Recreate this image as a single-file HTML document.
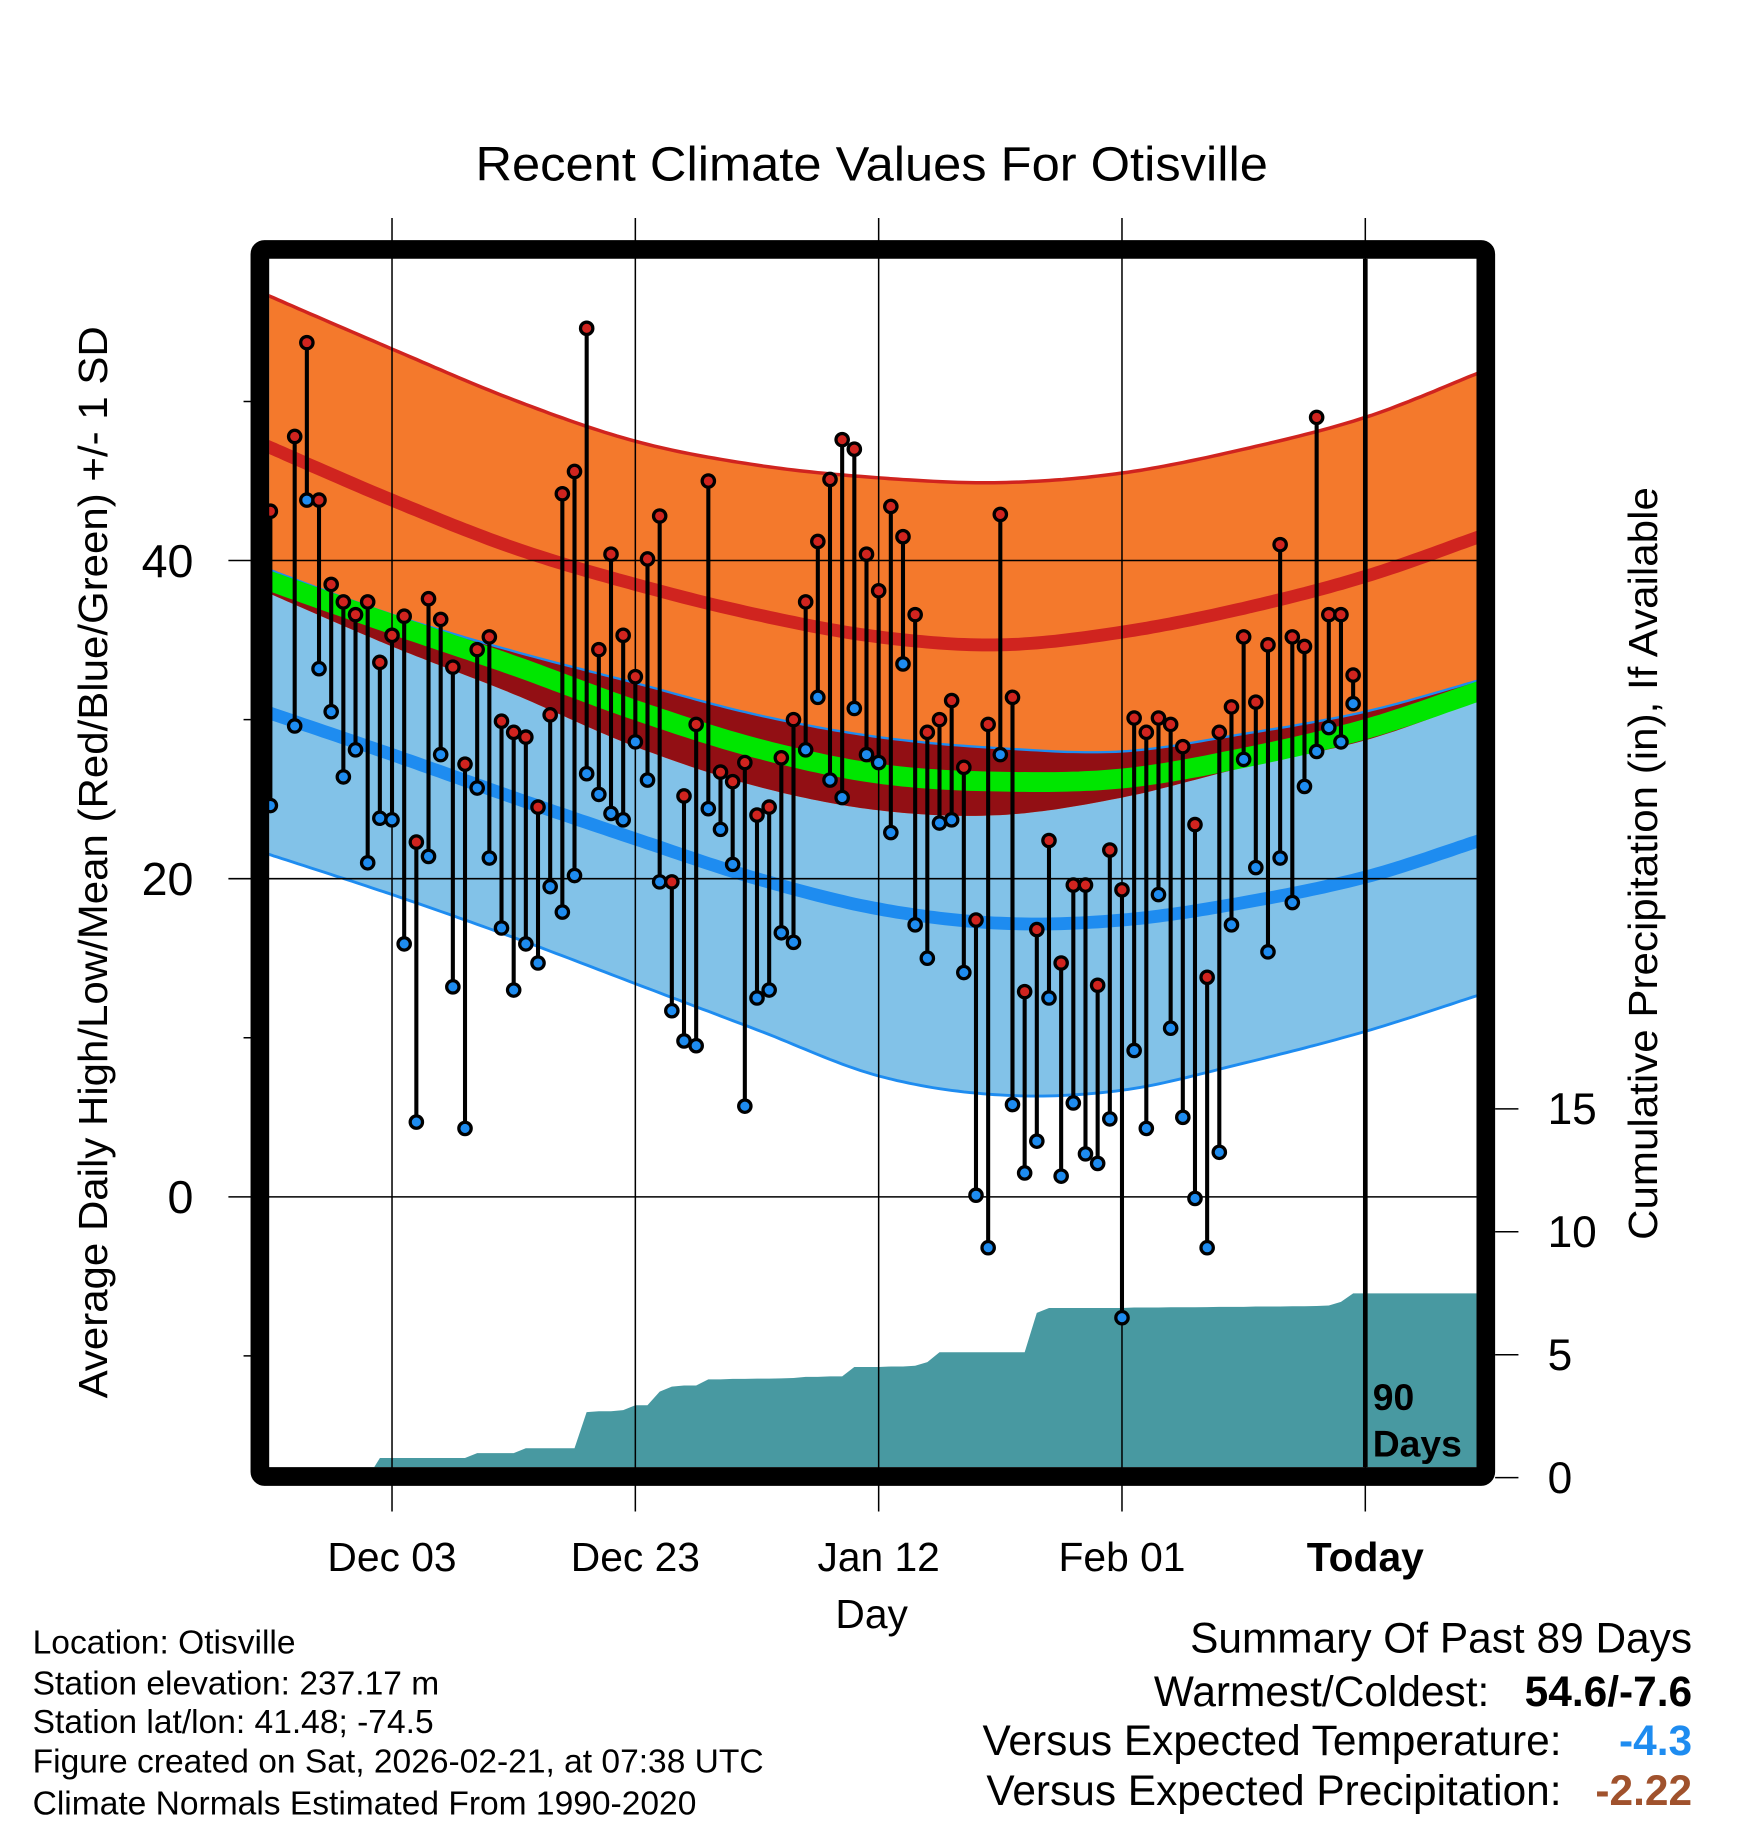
<!DOCTYPE html>
<html><head><meta charset="utf-8">
<style>
html,body{margin:0;padding:0;background:#fff;}
svg{display:block;}
text{font-family:"Liberation Sans",Arial,sans-serif;}
</style></head>
<body>
<svg id="chart" width="1748" height="1828" viewBox="0 0 1500 1568.6" xmlns="http://www.w3.org/2000/svg">
<text x="748" y="155" font-size="41" text-anchor="middle" textLength="680" lengthAdjust="spacingAndGlyphs">Recent Climate Values For Otisville</text>
<g id="plot"></g>
<text transform="translate(92,740) rotate(-90)" font-size="35" text-anchor="middle" textLength="920" lengthAdjust="spacingAndGlyphs">Average Daily High/Low/Mean (Red/Blue/Green) +/- 1 SD</text>
<text transform="translate(1422,741) rotate(-90)" font-size="35" text-anchor="middle" textLength="646" lengthAdjust="spacingAndGlyphs">Cumulative Precipitation (in), If Available</text>
<text x="748" y="1397" font-size="35" text-anchor="middle">Day</text>
<g font-size="28.8">
<text x="28" y="1419">Location: Otisville</text>
<text x="28" y="1454">Station elevation: 237.17 m</text>
<text x="28" y="1487">Station lat/lon: 41.48; -74.5</text>
<text x="28" y="1521">Figure created on Sat, 2026-02-21, at 07:38 UTC</text>
<text x="28" y="1557">Climate Normals Estimated From 1990-2020</text>
</g>
<g font-size="36.4">
<text x="1452" y="1418" text-anchor="end">Summary Of Past 89 Days</text>
<text x="1278" y="1464" text-anchor="end">Warmest/Coldest:</text>
<text x="1452" y="1464" text-anchor="end" font-weight="bold">54.6/-7.6</text>
<text x="1340" y="1506" text-anchor="end">Versus Expected Temperature:</text>
<text x="1452" y="1506" text-anchor="end" font-weight="bold" fill="#1e8cf0">-4.3</text>
<text x="1340" y="1549" text-anchor="end">Versus Expected Precipitation:</text>
<text x="1452" y="1549" text-anchor="end" font-weight="bold" fill="#a0522d">-2.22</text>
</g>
</svg>
<script>
// ---- data ----
const highs = [43.1,null,47.8,53.7,43.8,38.5,37.4,36.6,37.4,33.6,35.3,36.5,22.3,37.6,36.3,33.3,27.2,34.4,35.2,29.9,29.2,28.9,24.5,30.3,44.2,45.6,54.6,34.4,40.4,35.3,32.7,40.1,42.8,19.8,25.2,29.7,45.0,26.7,26.1,27.3,24.0,24.5,27.6,30.0,37.4,41.2,45.1,47.6,47.0,40.4,38.1,43.4,41.5,36.6,29.2,30.0,31.2,27.0,17.4,29.7,42.9,31.4,12.9,16.8,22.4,14.7,19.6,19.6,13.3,21.8,19.3,30.1,29.2,30.1,29.7,28.3,23.4,13.8,29.2,30.8,35.2,31.1,34.7,41.0,35.2,34.6,49.0,36.6,36.6,32.8];
const lows = [24.6,null,29.6,43.8,33.2,30.5,26.4,28.1,21.0,23.8,23.7,15.9,4.7,21.4,27.8,13.2,4.3,25.7,21.3,16.9,13.0,15.9,14.7,19.5,17.9,20.2,26.6,25.3,24.1,23.7,28.6,26.2,19.8,11.7,9.8,9.5,24.4,23.1,20.9,5.7,12.5,13.0,16.6,16.0,28.1,31.4,26.2,25.1,30.7,27.8,27.3,22.9,33.5,17.1,15.0,23.5,23.7,14.1,0.1,-3.2,27.8,5.8,1.5,3.5,12.5,1.3,5.9,2.7,2.1,4.9,-7.6,9.2,4.3,19.0,10.6,5.0,-0.1,-3.2,2.8,17.1,27.5,20.7,15.4,21.3,18.5,25.8,28.0,29.5,28.6,31.0];
const precip = [0,0,0,0,0,0,0,0,0,0.8,0.8,0.8,0.8,0.8,0.8,0.8,0.8,1.0,1.0,1.0,1.0,1.2,1.2,1.2,1.2,1.2,2.67,2.7,2.7,2.75,2.95,2.95,3.5,3.7,3.75,3.75,4.0,4.0,4.02,4.02,4.03,4.03,4.04,4.05,4.1,4.1,4.12,4.12,4.5,4.5,4.5,4.52,4.52,4.55,4.7,5.1,5.1,5.1,5.1,5.1,5.1,5.1,5.1,6.7,6.9,6.9,6.9,6.9,6.9,6.9,6.9,6.92,6.92,6.92,6.93,6.93,6.93,6.94,6.95,6.95,6.95,6.96,6.96,6.96,6.97,6.97,6.98,7.0,7.15,7.5];
const normDays = [0,10,20,30,40,50,60,70,80,90,99];
const highPlusSD = [56.6,53.3,50.1,47.5,46.0,45.2,44.9,45.5,47.0,49.0,51.7];
const normHigh   = [47.1,43.8,40.8,38.5,36.6,35.2,34.7,35.5,37.0,39.0,41.4];
const highMinusSD= [37.9,34.6,31.6,28.3,25.8,24.3,24.0,25.1,27.0,28.7,31.1];
const normMean   = [38.7,36.0,33.4,30.6,28.2,26.6,26.1,26.3,27.6,29.4,31.7];
const lowPlusSD  = [39.4,36.6,34.3,32.3,30.3,28.9,28.2,28.0,29.1,30.5,32.4];
const normLow    = [30.4,27.8,25.1,22.5,20.0,18.1,17.2,17.4,18.5,20.1,22.3];
const lowMinusSD = [21.5,19.0,16.3,13.4,10.5,7.6,6.4,6.7,8.4,10.4,12.6];
const xTickDays = [10,30,50,70,90];
const xTickLabels = ["Dec 03","Dec 23","Jan 12","Feb 01","Today"];
const yTicks = [40,20,0];
const yMinor = [50,30,10,-10];
const pTicks = [0,5,10,15];

// ---- scales ----
const PL=231, PR=1267, PT=222, PB=1259;
const X = d => 232 + d*10.44;
const Y = t => 1027 - t*13.65;
const P = p => 1268 - p*21.1;

const NS="http://www.w3.org/2000/svg";
const plot=document.getElementById('plot');
function mk(tag, attrs, parent){const e=document.createElementNS(NS,tag);for(const k in attrs)e.setAttribute(k,attrs[k]);(parent||plot).appendChild(e);return e;}

const defs=mk('defs',{});
const cp=mk('clipPath',{id:'clipPlot'},defs);
mk('rect',{x:PL,y:PT,width:PR-PL,height:PB-PT},cp);
const g=mk('g',{'clip-path':'url(#clipPlot)'});



function curvePts(arr){
  const pts=normDays.map((d,i)=>[X(d),Y(arr[i])]);
  const out=[];
  for(let i=0;i<pts.length-1;i++){
    const p0=pts[Math.max(0,i-1)],p1=pts[i],p2=pts[i+1],p3=pts[Math.min(pts.length-1,i+2)];
    for(let s=0;s<20;s++){
      const t=s/20,t2=t*t,t3=t2*t;
      const f=(a,b,c,d)=>0.5*((2*b)+(-a+c)*t+(2*a-5*b+4*c-d)*t2+(-a+3*b-3*c+d)*t3);
      out.push([f(p0[0],p1[0],p2[0],p3[0]),f(p0[1],p1[1],p2[1],p3[1])]);
    }
  }
  out.push(pts[pts.length-1]);
  const a=out[0],b=out[1];out.unshift([PL-5,a[1]-(b[1]-a[1])/(b[0]-a[0])*(a[0]-PL+5)]);
  const c=out[out.length-1],d=out[out.length-2];out.push([PR+5,c[1]+(c[1]-d[1])/(c[0]-d[0])*(PR+5-c[0])]);
  return out;
}
const ptsStr=a=>a.map(p=>p[0].toFixed(1)+','+p[1].toFixed(1)).join(' ');
function band(top,bot,fill,name){
  const t=curvePts(top),b=curvePts(bot).reverse();
  const e=mk('polygon',{points:ptsStr(t.concat(b)),fill:fill},g);
  
  
}
function line(arr,color,w,name){
  const e=mk('polyline',{points:ptsStr(curvePts(arr)),fill:'none',stroke:color,'stroke-width':w},g);
  
  
}
band(lowPlusSD,lowMinusSD,'#82c2e8','low-sd-band');
band(highPlusSD,highMinusSD,'#f4792c','high-sd-band');
band(lowPlusSD,highMinusSD,'#920f14','overlap-band');
line(highPlusSD,'#d0241f',3,'high-plus-sd-line');
line(lowMinusSD,'#1e8cf0',2.5,'low-minus-sd-line');
line(lowPlusSD,'#1e8cf0',2,'low-plus-sd-line');
line(normMean,'#00e600',17,'mean-line');
line(normHigh,'#d0241f',11,'normal-high-line');
line(normLow,'#1e8cf0',11,'normal-low-line');

let pd='M'+PL+','+(PB+5);
precip.forEach((v,i)=>{pd+=' L'+X(i).toFixed(1)+','+P(v).toFixed(1);});
pd+=' L'+PR+','+P(precip[precip.length-1]).toFixed(1)+' L'+PR+','+(PB+5)+' Z';
const pa=mk('path',{d:pd,fill:'#4899a1'},g);



yTicks.forEach(t=>{
  const e=mk('line',{x1:196,x2:PR,y1:Y(t),y2:Y(t),stroke:'#000','stroke-width':1.3});
  
  
  const l=mk('text',{x:166,y:Y(t)+14,'font-size':40,'text-anchor':'end'});
  l.textContent=t;
  
  
});
yMinor.forEach(t=>{
  const e=mk('line',{x1:209,x2:224,y1:Y(t),y2:Y(t),stroke:'#000','stroke-width':1.3});
  
  
});
xTickDays.forEach((d,i)=>{
  const x=X(d);
  const e=mk('line',{x1:x,x2:x,y1:187,y2:1297,stroke:'#000','stroke-width':1.3});
  
  
  const l=mk('text',{x:x,y:1348,'font-size':35,'text-anchor':'middle'});
  if(xTickLabels[i]==='Today') l.setAttribute('font-weight','bold');
  l.textContent=xTickLabels[i];
  
  
});
pTicks.forEach(p=>{
  const e=mk('line',{x1:1283,x2:1303,y1:P(p),y2:P(p),stroke:'#000','stroke-width':1.3});
  
  
  const l=mk('text',{x:1328,y:P(p)+13,'font-size':38});
  l.textContent=p;
  
  
});

const tl=mk('line',{x1:X(90),x2:X(90),y1:PT,y2:PB,stroke:'#000','stroke-width':4});


const t90=mk('text',{x:1178,y:1210,'font-size':32,'font-weight':'bold'});
t90.textContent='90';


const tdy=mk('text',{x:1178,y:1250,'font-size':32,'font-weight':'bold'});
tdy.textContent='Days';



highs.forEach((h,i)=>{
  const lo=lows[i]; if(h==null||lo==null) return;
  const x=X(i);
  const s=mk('line',{x1:x,x2:x,y1:Y(h),y2:Y(lo),stroke:'#000','stroke-width':3.5});
  
  
});
highs.forEach((h,i)=>{
  const lo=lows[i]; if(h==null||lo==null) return;
  const x=X(i);
  const c1=mk('circle',{cx:x,cy:Y(lo),r:5.3,fill:'#1e8cf0',stroke:'#000','stroke-width':2.8});
  
  
  const c2=mk('circle',{cx:x,cy:Y(h),r:5.3,fill:'#d0241f',stroke:'#000','stroke-width':2.8});
  
  
});

const fr=mk('rect',{x:223,y:214,width:1052,height:1053,rx:4,fill:'none',stroke:'#000','stroke-width':16});


</script>
</body></html>
